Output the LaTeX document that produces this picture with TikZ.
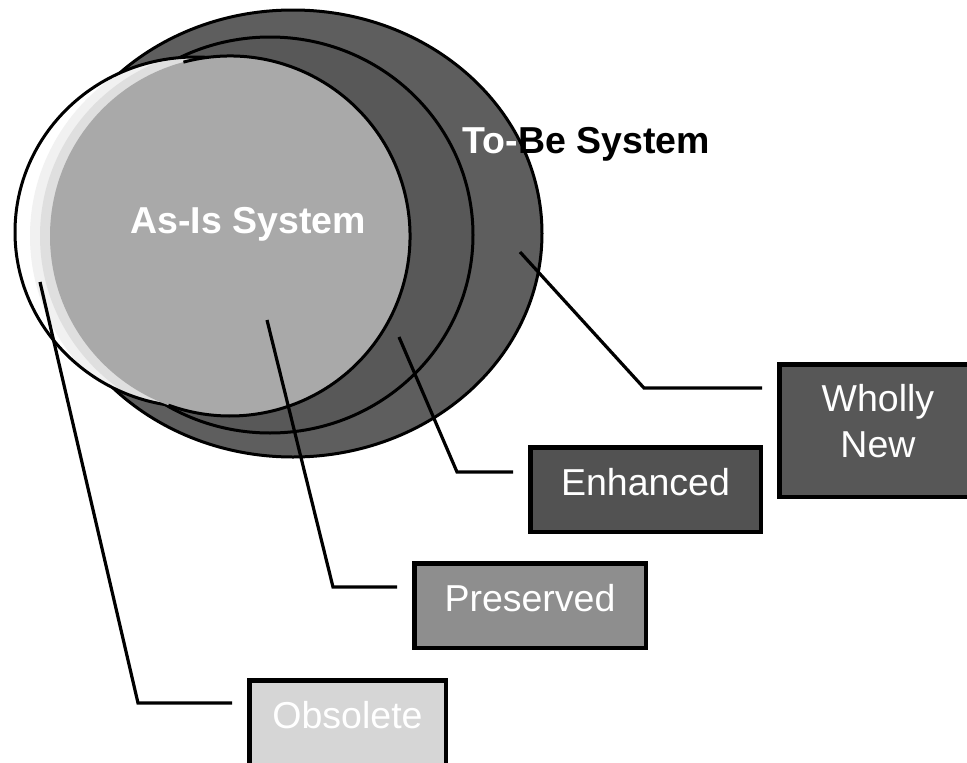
\documentclass[tikz,border=0pt]{standalone}
\usepackage{fontspec}
\setmainfont{Liberation Sans}
\newcommand\diaBoxFont{\fontsize{37.5}{46}\selectfont}
\newcommand\diaBoldFont{\fontsize{37.5}{46}\selectfont\bfseries}
\definecolor{outerc}{HTML}{5E5E5E}
\definecolor{midc}{HTML}{585858}
\definecolor{asc}{HTML}{A9A9A9}
\definecolor{glowa}{HTML}{F1F1F1}
\definecolor{glowb}{HTML}{DFDFDF}
\definecolor{whc}{HTML}{575757}
\definecolor{enc}{HTML}{525252}
\definecolor{prc}{HTML}{8E8E8E}
\definecolor{obc}{HTML}{D6D6D6}
\begin{document}
\begin{tikzpicture}[x=1pt,y=-1pt,
  ring/.style={line width=3pt, draw=black},
  leader/.style={line width=3.2pt, draw=black, line join=miter, shorten >=15pt},
  lbox/.style={rectangle, draw=black, line width=4.5pt, inner sep=0pt, text=white,
    font=\diaBoxFont, text height=27pt, text depth=16pt},
  bigtxt/.style={font=\diaBoldFont, inner sep=0pt}]
\useasboundingbox (0,0) rectangle (967,763);
\fill[white] (0,0) rectangle (967,763);
\clip (0,0) rectangle (967,763);

% centres of the ellipses
\coordinate (cOut) at (293,233.5);
\coordinate (cMid) at (270,235);
\coordinate (cWhite) at (195,232);
\coordinate (cAs) at (230,236);

% To-Be (outer) and enhanced (middle) ellipses
\filldraw[fill=outerc, ring] (cOut) ellipse [x radius=249, y radius=223.5];
\filldraw[fill=midc, ring] (cMid) ellipse [x radius=203, y radius=198];

% obsolete (white) ellipse with soft glow of the As-Is system
\fill[white] (cWhite) ellipse [x radius=180, y radius=175];
\begin{scope}
  \clip (cWhite) ellipse [x radius=180, y radius=175];
  \fill[glowa] (cAs) ellipse [x radius=200, y radius=196];
  \fill[glowb] (cAs) ellipse [x radius=190, y radius=188];
\end{scope}
\draw[ring] (cWhite) ellipse [x radius=180, y radius=175];

% As-Is ellipse
\fill[asc] (cAs) ellipse [x radius=180, y radius=180];
\draw[ring] (cAs) ++(-105:180) arc[start angle=-105, end angle=110, radius=180];

% ellipse labels
\node[bigtxt, text=white, anchor=base] (asis) at (248,233) {As-Is System};
\node[bigtxt, text=white, anchor=base west] (tobeA) at (462,153) {To-};
\node[bigtxt, text=black, anchor=base west] (tobeB) at (tobeA.base east) {Be System};

% boxes
\node[lbox, fill=whc, minimum width=197.5pt, minimum height=132.5pt] (wholly) at (878,430.5) {};
\node[font=\diaBoxFont, text=white, align=center, inner sep=0pt] (whollyTxt) at (878,421.5) {Wholly\\New};
\node[lbox, fill=enc, minimum width=230.5pt, minimum height=84.5pt] (enh) at (645.5,489.5) {Enhanced};
\node[lbox, fill=prc, minimum width=231.5pt, minimum height=84.5pt] (pres) at (530,605.5) {Preserved};
\node[lbox, fill=obc, minimum width=196.5pt, minimum height=84.5pt] (obs) at (347.5,722.5) {Obsolete};

% leader lines
\coordinate (sW) at (520,252);  \coordinate (kW) at (644,388);
\coordinate (sE) at (399,337);  \coordinate (kE) at (457,472);
\coordinate (sP) at (267,320);  \coordinate (kP) at (333,587);
\coordinate (sO) at (40,282);   \coordinate (kO) at (138,703);
\draw[leader] (sW) -- (kW) -- (kW -| wholly.west);
\draw[leader] (sE) -- (kE) -- (kE -| enh.west);
\draw[leader] (sP) -- (kP) -- (kP -| pres.west);
\draw[leader] (sO) -- (kO) -- (kO -| obs.west);
\end{tikzpicture}
\end{document}
